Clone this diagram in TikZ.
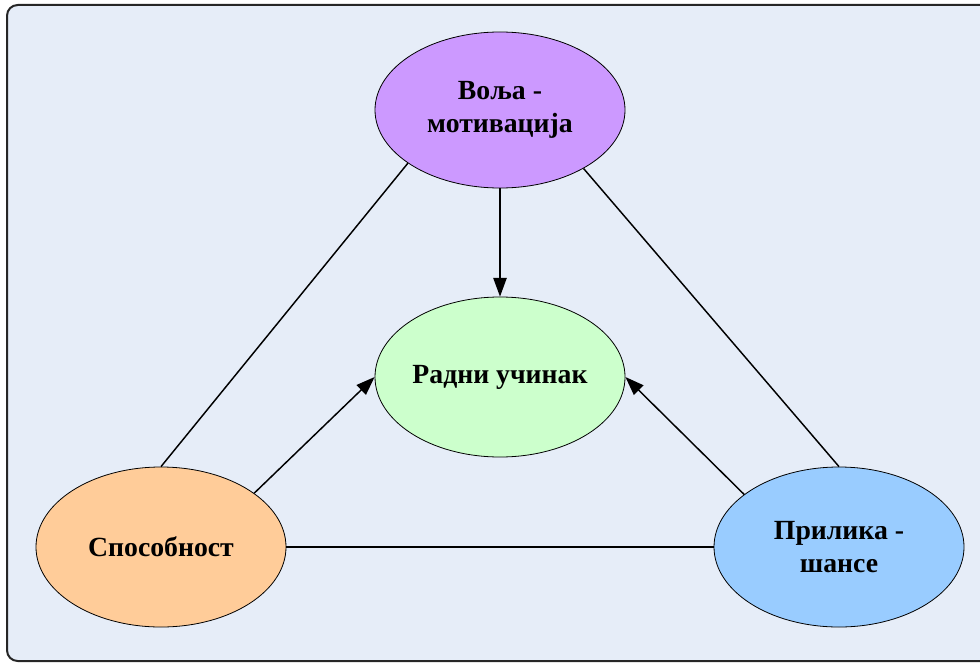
\documentclass[tikz,border=0pt]{standalone}
\usepackage{fontspec}
\setmainfont{Liberation Serif}
\usetikzlibrary{shapes.geometric,arrows.meta}
\definecolor{panelbg}{HTML}{E6EDF8}
\definecolor{willfill}{HTML}{CC99FF}
\definecolor{perffill}{HTML}{CCFFCC}
\definecolor{abilfill}{HTML}{FFCC99}
\definecolor{oppfill}{HTML}{99CCFF}
\tikzset{
  bubble/.style={ellipse, draw=black, line width=0.6pt, inner sep=0pt,
    minimum width=187.5pt, minimum height=120pt, align=center,
    font=\fontsize{20.8pt}{25pt}\selectfont\bfseries},
  link/.style={line width=1.1pt, draw=black},
  push/.style={link, -{Triangle[length=14pt,width=10pt]}}
}
\begin{document}
\begin{tikzpicture}[x=0.75pt,y=-0.75pt]
  \useasboundingbox (0,0) rectangle (980,663);
  \clip (0,0) rectangle (980,663);
  % panel
  \draw[fill=panelbg, draw=black!85, line width=1.5pt, rounded corners=8pt]
    (7,5) rectangle (1010,661);
  % ellipses
  \node[bubble, fill=willfill, minimum height=117pt] (will) at (500,110) {Воља -\\мотивација};
  \node[bubble, fill=perffill] (perf) at (500,377) {Радни учинак};
  \node[bubble, fill=abilfill] (abil) at (161,547) {Способност};
  \node[bubble, fill=oppfill] (opp) at (839,547) {Прилика -\\шансе};
  % triangle sides
  \draw[link] (will.210) -- (abil.north);
  \draw[link] (will.325) -- (opp.north);
  \draw[link] (abil.east) -- (opp.west);
  % influences on performance
  \draw[push] (will.south) -- (perf.north);
  \draw[push] (abil.30) -- (perf.west);
  \draw[push] (opp.151) -- (perf.east);
\end{tikzpicture}
\end{document}
